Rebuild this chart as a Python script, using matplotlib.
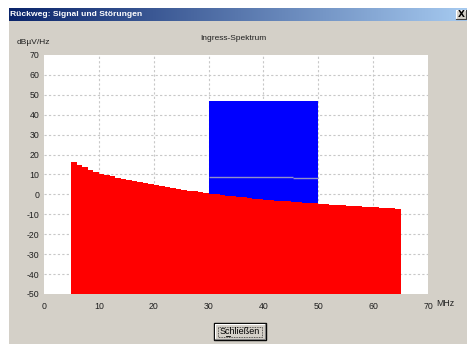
import numpy as np
import matplotlib
matplotlib.use("Agg")
import matplotlib.pyplot as plt
from matplotlib.patches import Rectangle

# ---- data -------------------------------------------------------------
freq_mhz = list(range(5, 66))
ingress_db = [16.1, 14.8, 13.6, 12.5, 11.4, 10.5, 9.7, 9.0, 8.4, 7.8,
              7.2, 6.7, 6.0, 5.5, 5.0, 4.5, 4.0, 3.6, 3.1, 2.7,
              2.3, 1.9, 1.5, 1.1, 0.7, 0.3, 0.0, -0.3, -0.6, -0.9,
              -1.2, -1.5, -1.8, -2.1, -2.4, -2.7, -2.9, -3.1, -3.3, -3.5,
              -3.7, -3.9, -4.1, -4.3, -4.5, -4.7, -4.9, -5.1, -5.3, -5.5,
              -5.7, -5.8, -6.0, -6.2, -6.3, -6.5, -6.6, -6.8, -6.9, -7.1,
              -7.2]

signal_edges = [30, 34.5, 50]
signal_level = [47.1, 46.7]

marker_edges = [30, 45.3, 50]
marker_level = [8.7, 8.2]

x_ticks = [0, 10, 20, 30, 40, 50, 60, 70]
y_ticks = [-50, -40, -30, -20, -10, 0, 10, 20, 30, 40, 50, 60, 70]
Y_FLOOR = -50

W, H = 467, 344
DIALOG = "#D4D0C8"
FONT = "Liberation Sans"

fig = plt.figure(figsize=(W / 100, H / 100), dpi=100, facecolor="white")

# ---- dialog chrome (pixel coordinates) --------------------------------
bg = fig.add_axes([0, 0, 1, 1])
bg.set_xlim(0, W)
bg.set_ylim(H, 0)
bg.axis("off")

bg.add_patch(Rectangle((9, 8), W - 9, H - 8, facecolor=DIALOG, edgecolor="none"))

# title bar gradient
grad = np.linspace(0, 1, 256)[None, :]
cmap = matplotlib.colors.LinearSegmentedColormap.from_list("tb", ["#0A246A", "#A6CAF0"])
bg.imshow(grad, cmap=cmap, extent=(9, W, 21, 8), aspect="auto", zorder=1)
bg.text(10.5, 14.8, "Rückweg: Signal und Störungen", color="white", fontsize=6.1,
        fontweight="bold", family=FONT, va="center", ha="left", zorder=2)

# close button
bg.add_patch(Rectangle((456, 10), 10, 9, facecolor=DIALOG, edgecolor="none", zorder=2))
bg.plot([456, 456, 466], [19, 10, 10], color="white", lw=0.8, zorder=3)
bg.plot([456, 466, 466], [19, 19, 10], color="#404040", lw=0.8, zorder=3)
bg.text(461, 14.8, "X", fontsize=6.5, fontweight="bold", family="DejaVu Sans",
        ha="center", va="center", color="black", zorder=3)

# captions
bg.text(17, 42, "dBµV/Hz", fontsize=6, family=FONT, ha="left", va="center", color="#202020")
bg.text(233, 39, "Ingress-Spektrum", fontsize=6, family=FONT, ha="center", va="center",
        color="#202020")
bg.text(436, 304, "MHz", fontsize=6.3, family=FONT, ha="left", va="center", color="#202020")

# "Schließen" button
bx0, by0, bx1, by1 = 214, 323, 266, 340
bg.add_patch(Rectangle((bx0, by0), bx1 - bx0, by1 - by0, facecolor=DIALOG,
                       edgecolor="black", lw=1.0, zorder=2))
bg.plot([bx0 + 1, bx0 + 1, bx1 - 1], [by1 - 1, by0 + 1, by0 + 1], color="white", lw=0.8, zorder=3)
bg.plot([bx0 + 1, bx1 - 1, bx1 - 1], [by1 - 1, by1 - 1, by0 + 1], color="#808080", lw=0.8, zorder=3)
bg.add_patch(Rectangle((bx0 + 4, by0 + 3.5), bx1 - bx0 - 8, by1 - by0 - 7, facecolor="none",
                       edgecolor="#303030", lw=0.6, ls=(0, (1, 1)), zorder=3))
bg.text((bx0 + bx1) / 2, (by0 + by1) / 2 + 0.5, "Schließen",
        fontsize=6.5, family=FONT, ha="center", va="center", color="black", zorder=4)
# mnemonic underline under the "S"
bg.plot([225.5, 229.5], [336, 336], color="black", lw=0.6, zorder=4)

# ---- chart ------------------------------------------------------------
left, right, top, bottom = 44, 428, 55, 294
ax = fig.add_axes([left / W, 1 - bottom / H, (right - left) / W, (bottom - top) / H])
ax.set_facecolor("white")
ax.set_xlim(x_ticks[0], x_ticks[-1])
ax.set_ylim(y_ticks[0], y_ticks[-1])

ax.bar(signal_edges[:-1], [v - Y_FLOOR for v in signal_level], width=np.diff(signal_edges),
       bottom=Y_FLOOR, align="edge", color="#0000FF", edgecolor="none", zorder=2)
ax.fill_between(freq_mhz, ingress_db, Y_FLOOR, step="post", color="#FF0000",
                linewidth=0, zorder=3)
for x0, x1, lv in zip(marker_edges[:-1], marker_edges[1:], marker_level):
    ax.hlines(lv, x0, x1, color="#9090C8", lw=1.0, zorder=4)

ax.set_xticks(x_ticks)
ax.set_yticks(y_ticks)
ax.set_xticklabels([str(v) for v in x_ticks])
ax.set_yticklabels([str(v) for v in y_ticks])
ax.grid(True, color="#C8C8C8", lw=0.8, ls=(0, (2, 2)), zorder=0)
ax.set_axisbelow(True)
ax.tick_params(length=0, labelsize=6.3, pad=3.5, colors="#202020")
ax.tick_params(axis="x", pad=6)
for lab in ax.get_xticklabels() + ax.get_yticklabels():
    lab.set_family(FONT)
for s in ax.spines.values():
    s.set_visible(False)

# no grid lines along the plot border
for gl in (ax.xaxis.get_gridlines(), ax.yaxis.get_gridlines()):
    gl[0].set_visible(False)
    gl[-1].set_visible(False)

fig.savefig("out.png", dpi=100, facecolor=fig.get_facecolor())
